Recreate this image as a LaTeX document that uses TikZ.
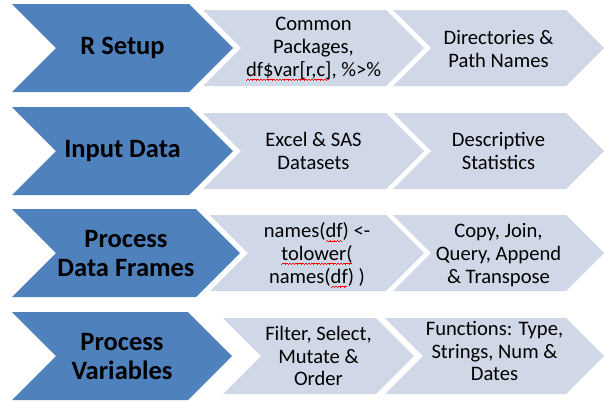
\documentclass[tikz,border=0pt]{standalone}
\usepackage{tikz}
\usepackage{fontspec}
\setmainfont{Carlito}

\definecolor{stepblue}{RGB}{79,129,189}
\definecolor{steplight}{RGB}{208,216,232}

% red wavy underline, as a spell checker marks a word
\newcommand\spellwave{\hbox{%
  \rule[-4.4pt]{0.8pt}{0.8pt}\rule[-3.8pt]{0.8pt}{0.8pt}%
  \rule[-3.2pt]{0.8pt}{0.8pt}\rule[-3.8pt]{0.8pt}{0.8pt}}}
\newcommand\spellmark[1]{\setbox0\hbox{#1}%
  \rlap{\color{red}\hbox to\wd0{\leaders\spellwave\hfill}}\box0}

% chevron: #1 fill style, #2 left x, #3 tip x, #4 centre y, #5 half height
\newcommand\chevron[5]{%
  \fill[#1] (#2,#4-#5) -- (#3-#5,#4-#5) -- (#3,#4) -- (#3-#5,#4+#5)
    -- (#2,#4+#5) -- (#2+#5,#4) -- cycle;}

\tikzset{
  headfill/.style={fill=stepblue},
  itemfill/.style={fill=steplight},
  headtext/.style={align=center, inner sep=0pt, text=black,
    font=\fontsize{26.5}{29}\selectfont\bfseries},
  itemtext/.style={align=center, inner sep=0pt, text=black,
    font=\fontsize{20.6}{22.8}\selectfont},
}

\begin{document}
\begin{tikzpicture}[x=1pt,y=-1pt]
\useasboundingbox (0,0) rectangle (604,402);

% row 1
\chevron{headfill}{12}{233}{48}{44}
\chevron{itemfill}{203}{424}{48}{38}
\chevron{itemfill}{393}{604}{48}{38}
\node[headtext] (setup) at (122.5,48) {R Setup};
\node[itemtext] (packages) at (313.5,49) {Common\\Packages,\\\spellmark{df\$var[r,c]}, \%>\%};
\node[itemtext] (dirs) at (498.5,49) {Directories \&\\Path Names};

% row 2
\chevron{headfill}{12}{233}{151}{44}
\chevron{itemfill}{203}{424}{151}{38}
\chevron{itemfill}{393}{604}{151}{38}
\node[headtext] (input) at (122.5,151) {Input Data};
\node[itemtext] (excel) at (313.5,151) {Excel \& SAS\\Datasets};
\node[itemtext] (stats) at (498.5,151) {Descriptive\\Statistics};

% row 3
\chevron{headfill}{12}{240}{253}{44}
\chevron{itemfill}{210}{424}{253}{38}
\chevron{itemfill}{393}{604}{253}{38}
\node[headtext] (frames) at (126,253) {Process\\Data Frames};
\node[itemtext] (names) at (317,255) {names(\spellmark{df}) <-\\\spellmark{tolower(}\\names(\spellmark{df}) )};
\node[itemtext] (join) at (498.5,255) {Copy, Join,\\Query, Append\\\& Transpose};

% row 4
\chevron{headfill}{12}{232}{356}{44}
\chevron{itemfill}{223}{414}{356}{38}
\chevron{itemfill}{385}{604}{356}{38}
\node[headtext] (vars) at (122,356) {Process\\Variables};
\node[itemtext] (filter) at (318.5,356) {Filter, Select,\\Mutate \&\\Order};
\node[itemtext] (funcs) at (494.5,351) {Functions: Type,\\Strings, Num \&\\Dates};
\end{tikzpicture}
\end{document}
